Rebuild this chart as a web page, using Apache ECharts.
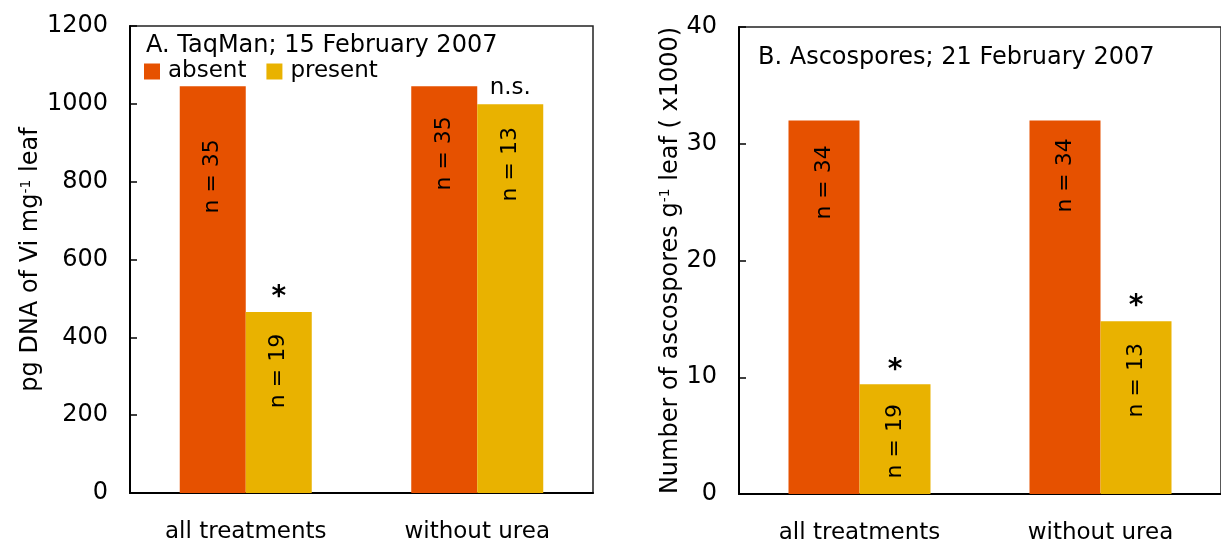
<!DOCTYPE html>
<html>
<head>
<meta charset="utf-8">
<script src="https://cdn.jsdelivr.net/npm/echarts@6/dist/echarts.min.js"></script>
<style>
html,body{margin:0;padding:0;background:#fff;}
#c{width:1221px;height:545px;}
</style>
</head>
<body>
<div id="c"></div>
<script>
// ---- data ----
const categories = ['all treatments', 'without urea'];
const seriesNames = ['absent', 'present'];
// Panel A: TaqMan (pg DNA of Vi mg-1 leaf)
const absentA = [1045, 1045];
const presentA = [465, 999];
const nAbsentA = [35, 35];
const nPresentA = [19, 13];
const annotA = ['*', 'n.s.'];
const yTicksA = { min: 0, max: 1200, interval: 200 };
// Panel B: Ascospores (x1000 per g leaf)
const absentB = [32.0, 32.0];
const presentB = [9.4, 14.8];
const nAbsentB = [34, 34];
const nPresentB = [19, 13];
const annotB = ['*', '*'];
const yTicksB = { min: 0, max: 40, interval: 10 };
const titleA = 'A. TaqMan; 15 February 2007';
const titleB = 'B. Ascospores; 21 February 2007';

// ---- styles (label placement inside bars, px below bar top) ----
const absentLabelOffA = [90, 67];
const presentLabelOffA = [59, 60];
const absentLabelOffB = [62, 55];
const presentLabelOffB = [57, 59];

const FONT = 'DejaVu Sans';
const C_ABS = '#E65100';
const C_PRE = '#E9B200';

function nData(values, ns, offs) {
  return values.map((v, i) => ({
    value: v,
    label: { formatter: 'n = ' + ns[i], position: ['50%', offs[i]] }
  }));
}
function annData(labels) {
  return labels.map(t => ({
    value: 0,
    label: t === '*'
      ? { formatter: t, fontSize: 28, fontWeight: 'bold', distance: 0 }
      : { formatter: t, fontSize: 23, distance: 5 }
  }));
}
const innerLabel = {
  show: true, rotate: 90, align: 'center', verticalAlign: 'middle',
  fontFamily: FONT, fontSize: 22, color: '#000'
};
const annLabel = {
  show: true, position: 'top', distance: 3,
  fontFamily: FONT, fontSize: 24, color: '#000'
};

function xAxis(gi) {
  return {
    type: 'category', gridIndex: gi, data: categories,
    axisLine: { lineStyle: { color: '#000', width: 2 } },
    axisTick: { show: false },
    axisLabel: { fontFamily: FONT, fontSize: 23, color: '#000', margin: 28 }
  };
}
function yAxis(gi, t, name, gap) {
  return {
    type: 'value', gridIndex: gi, min: t.min, max: t.max, interval: t.interval,
    name: name, nameLocation: 'middle', nameGap: gap,
    nameTextStyle: { fontFamily: FONT, fontSize: 24, color: '#000',
      rich: { sup: { fontFamily: FONT, fontSize: 14, color: '#000', verticalAlign: 'top' } } },
    axisLine: { show: true, lineStyle: { color: '#000', width: 2 } },
    axisTick: { show: true, inside: true, length: 7, lineStyle: { color: '#000', width: 1.5 } },
    axisLabel: { fontFamily: FONT, fontSize: 24, color: '#000', margin: 22, formatter: v => String(v) },
    splitLine: { show: false }
  };
}

const option = {
  animation: false,
  backgroundColor: '#fff',
  title: [
    { text: titleA, left: 141, top: 29, textStyle: { fontFamily: FONT, fontSize: 24, fontWeight: 'normal', color: '#000' } },
    { text: titleB, left: 753, top: 41, textStyle: { fontFamily: FONT, fontSize: 24, fontWeight: 'normal', color: '#000' } }
  ],
  legend: {
    data: seriesNames, left: 139, top: 55, itemWidth: 16, itemHeight: 16, itemGap: 20,
    icon: 'rect', selectedMode: false,
    textStyle: { fontFamily: FONT, fontSize: 23, color: '#000', padding: [0, 0, 0, 3] }
  },
  grid: [
    { left: 130, top: 26, width: 463, height: 467, show: true, borderColor: '#222', borderWidth: 1.5, containLabel: false },
    { left: 739, top: 27, width: 492, height: 469, show: true, borderColor: '#222', borderWidth: 1.5, containLabel: false }
  ],
  xAxis: [xAxis(0), xAxis(1)],
  yAxis: [
    yAxis(0, yTicksA, 'pg DNA of Vi mg{sup|-1} leaf', 86),
    yAxis(1, yTicksB, 'Number of ascospores g{sup|-1} leaf ( x1000)', 56)
  ],
  series: [
    { name: 'absent', type: 'bar', xAxisIndex: 0, yAxisIndex: 0, barWidth: 66, barGap: 0,
      itemStyle: { color: C_ABS }, label: innerLabel, data: nData(absentA, nAbsentA, absentLabelOffA) },
    { name: 'present', type: 'bar', xAxisIndex: 0, yAxisIndex: 0, barWidth: 66, stack: 'pA',
      itemStyle: { color: C_PRE }, label: innerLabel, data: nData(presentA, nPresentA, presentLabelOffA) },
    { name: 'annA', type: 'bar', xAxisIndex: 0, yAxisIndex: 0, barWidth: 66, stack: 'pA',
      itemStyle: { color: 'rgba(0,0,0,0)' }, label: annLabel, data: annData(annotA) },
    { name: 'absent', type: 'bar', xAxisIndex: 1, yAxisIndex: 1, barWidth: 71, barGap: 0,
      itemStyle: { color: C_ABS }, label: innerLabel, data: nData(absentB, nAbsentB, absentLabelOffB) },
    { name: 'present', type: 'bar', xAxisIndex: 1, yAxisIndex: 1, barWidth: 71, stack: 'pB',
      itemStyle: { color: C_PRE }, label: innerLabel, data: nData(presentB, nPresentB, presentLabelOffB) },
    { name: 'annB', type: 'bar', xAxisIndex: 1, yAxisIndex: 1, barWidth: 71, stack: 'pB',
      itemStyle: { color: 'rgba(0,0,0,0)' }, label: annLabel, data: annData(annotB) }
  ]
};
const chart = echarts.init(document.getElementById('c'), null, { renderer: 'canvas' });
chart.setOption(option);
</script>
</body>
</html>
